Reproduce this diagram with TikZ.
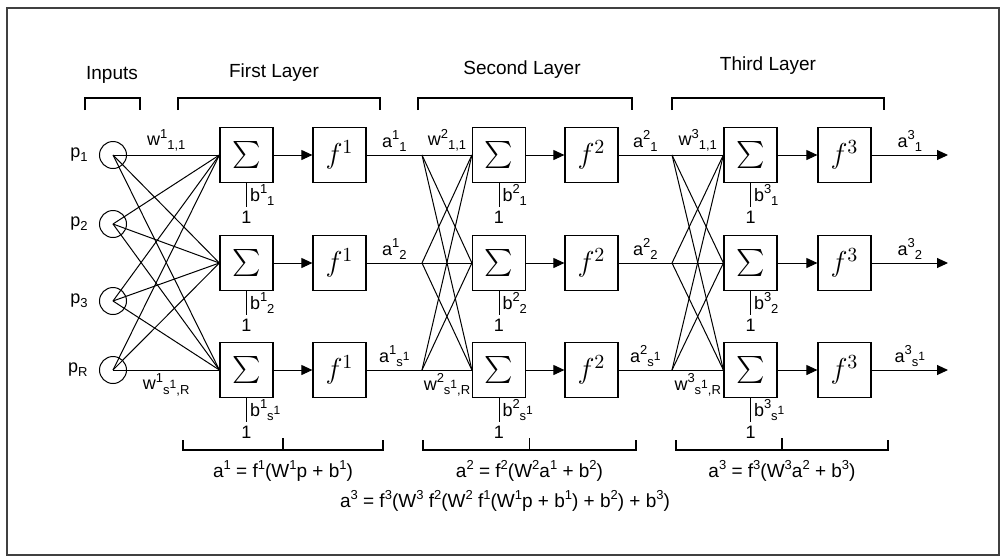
\documentclass[tikz,border=0pt]{standalone}
\usepackage{fontspec}
\setmainfont{Liberation Sans}
\usetikzlibrary{positioning, arrows.meta, calc}
\newcommand{\up}[1]{\raisebox{0.8ex}{\fontsize{6.5}{7}\selectfont #1}}
\newcommand{\dn}[1]{\raisebox{-0.45ex}{\fontsize{6.5}{7}\selectfont #1}}
\newcommand{\sS}{s\raisebox{0.9ex}{\fontsize{6}{6}\selectfont 1}}
\newcommand{\sumsym}{\scalebox{1.35}{$\sum$}}
\newcommand{\fsym}[1]{{\fontsize{14}{14}\selectfont $f^{#1}$}}

\begin{document}
\begin{tikzpicture}[
    x=0.5pt, y=-0.5pt,
    sumbox/.style={
        draw,
        line width=0.6pt,
        minimum width=26.5pt,
        minimum height=27.5pt,
        inner sep=0pt
    },
    inp/.style={draw, circle, minimum size=13.5pt, inner sep=0pt, line width=0.5pt},
    wire/.style={line width=0.5pt},
    feed/.style={wire, -{Triangle[length=5.5pt, width=5pt]}},
    lbl/.style={font=\fontsize{9}{10}\selectfont, inner sep=1.5pt},
    title/.style={font=\fontsize{9.5}{11}\selectfont},
    brace/.style={line width=0.6pt},
    frame/.style={line width=1pt, black!75}
]
    \useasboundingbox (0,0) rectangle (1002,559);
    \draw[frame] (7,8) rectangle (999,555);

    % --- inputs ---
    \foreach \i/\y/\t in {1/155/1, 2/224/2, 3/301/3, 4/370/R} {
        \node[inp] (p\i) at (113,\y) {};
        \node[lbl, left=4pt of p\i] (pl\i) {p\dn{\t}};
    }

    % --- sum and transfer boxes of the three layers ---
    \foreach \lay/\sx/\fx in {1/246.5/339.5, 2/499/591.5, 3/750.5/844.5} {
        \foreach \row/\y/\t in {1/155/1, 2/263/2, 3/370/\sS} {
            \node[sumbox] (s\lay\row) at (\sx,\y) {\sumsym};
            \node[sumbox] (f\lay\row) at (\fx,\y) {\fsym{\lay}};
            \draw[feed] (s\lay\row) -- (f\lay\row);
            \coordinate (one\lay\row) at ($(s\lay\row.south)+(0,24)$);
            \draw[wire] (s\lay\row.south) -- (one\lay\row)
                node[midway, right, lbl]{b\up{\lay}\dn{\t}};
            \node[lbl, inner sep=0.5pt, below=1.5pt of one\lay\row] (bl\lay\row) {1};
        }
    }

    % --- weights of the first layer ---
    \foreach \i in {1,...,4} {
        \foreach \row in {1,2,3} {
            \draw[wire] (p\i.center) -- (s1\row.west);
        }
    }
    \path (p1.center) -- (s11.west) node[midway, above, lbl]{w\up{1}\dn{1,1}};
    \path (p4.center) -- (s13.west) node[midway, below, lbl]{w\up{1}\dn{\sS,R}};

    % --- weights of the second and third layer ---
    \foreach \lay/\prev/\fx in {2/1/422, 3/2/672} {
        \foreach \row/\y/\t in {1/155/1, 2/263/2, 3/370/\sS} {
            \coordinate (fan\lay\row) at (\fx,\y);
            \draw[wire] (f\prev\row.east) -- (fan\lay\row)
                node[midway, above, lbl]{a\up{\prev}\dn{\t}};
        }
        \foreach \row in {1,2,3} {
            \foreach \k in {1,2,3} {
                \draw[wire] (fan\lay\row) -- (s\lay\k.west);
            }
        }
        \path (fan\lay1) -- (s\lay1.west) node[midway, above, lbl]{w\up{\lay}\dn{1,1}};
        \path (fan\lay3) -- (s\lay3.west) node[midway, below, lbl]{w\up{\lay}\dn{\sS,R}};
    }

    % --- outputs ---
    \foreach \row/\y/\t in {1/155/1, 2/263/2, 3/370/\sS} {
        \coordinate (out\row) at (948,\y);
        \draw[feed] (f3\row.east) -- (out\row)
            node[midway, above, lbl]{a\up{3}\dn{\t}};
    }

    % --- top brackets and titles ---
    \foreach \a/\b/\tx/\ty/\t in {85/140/112/75/Inputs, 178/380/274/73/First Layer,
                                 418/632/522/70/Second Layer, 672/884/768/66/Third Layer} {
        \draw[brace] (\a,110) -- (\a,98) -- (\b,98) -- (\b,110);
        \node[title] at (\tx,\ty) {\t};
    }

    % --- bottom brackets and layer equations ---
    \foreach \a/\b/\lay/\prev in {183/383/1/p, 423/636/2/a\up{1}, 676/888/3/a\up{2}} {
        \draw[brace] (\a,440) -- (\a,450) -- (\b,450) -- (\b,440);
        \draw[brace] ({(\a+\b)/2},450) -- ({(\a+\b)/2},438);
        \node[title] at ({(\a+\b)/2},471)
            {a\up{\lay} = f\up{\lay}(W\up{\lay}\prev{} + b\up{\lay})};
    }
    \node[title] (all) at (505,501)
        {a\up{3} = f\up{3}(W\up{3} f\up{2}(W\up{2} f\up{1}(W\up{1}p + b\up{1}) + b\up{2}) + b\up{3})};

\end{tikzpicture}
\end{document}
